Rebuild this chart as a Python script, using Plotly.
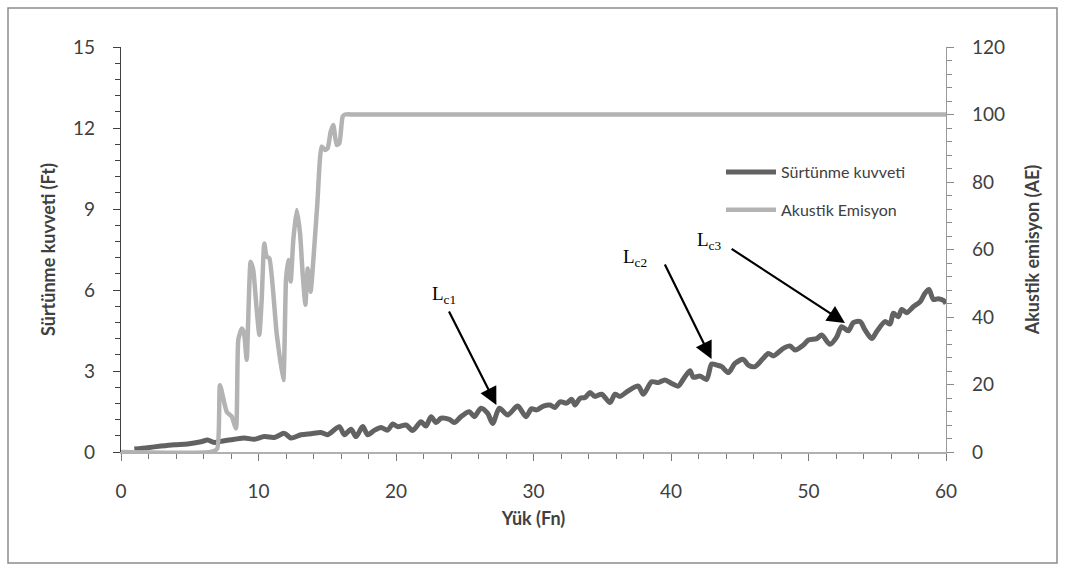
import plotly.graph_objects as go

# ---- data ----
fn_friction = [0.97, 1.94, 2.91, 3.88, 4.85, 5.82, 6.30, 6.79, 7.52, 8.24, 8.97, 9.70, 10.42, 11.15,
               11.88, 12.36, 13.09, 13.82, 14.55, 15.03, 15.88, 16.24, 16.73, 17.09, 17.58, 17.94,
               18.42, 18.91, 19.39, 19.76, 20.12, 20.73, 21.21, 21.82, 22.18, 22.55, 22.91, 23.27,
               23.88, 24.24, 24.73, 25.33, 25.70, 26.18, 26.67, 27.03, 27.52, 28.12, 28.85, 29.45,
               29.85, 30.23, 30.72, 31.20, 31.56, 31.93, 32.41, 32.78, 33.02, 33.38, 33.75, 34.11,
               34.47, 34.96, 35.56, 35.93, 36.29, 36.90, 37.62, 37.99, 38.59, 39.08, 39.56, 40.05,
               40.53, 40.89, 41.38, 41.62, 42.11, 42.59, 42.96, 43.32, 43.69, 44.17, 44.65, 45.26,
               45.62, 46.11, 46.71, 47.08, 47.44, 48.17, 48.65, 49.02, 49.62, 49.99, 50.60, 50.96,
               51.56, 52.05, 52.41, 52.90, 53.26, 53.75, 54.11, 54.60, 54.96, 55.56, 55.93, 56.17,
               56.53, 56.78, 57.14, 57.62, 58.11, 58.47, 58.76, 59.08, 59.44, 59.80, 60.00]
friction = [0.11, 0.16, 0.22, 0.27, 0.30, 0.38, 0.44, 0.35, 0.42, 0.47, 0.52, 0.47, 0.57, 0.54,
            0.69, 0.52, 0.64, 0.68, 0.72, 0.64, 0.94, 0.64, 0.84, 0.57, 0.94, 0.64,
            0.80, 0.91, 0.81, 1.04, 0.94, 1.00, 0.80, 1.12, 0.96, 1.31, 1.09, 1.25,
            1.21, 1.09, 1.31, 1.49, 1.31, 1.62, 1.43, 1.06, 1.62, 1.37, 1.70, 1.31,
            1.60, 1.56, 1.70, 1.74, 1.65, 1.86, 1.81, 1.95, 1.74, 1.99, 2.02, 2.20,
            2.06, 2.14, 1.83, 2.14, 2.06, 2.27, 2.44, 2.14, 2.60, 2.57, 2.67, 2.54,
            2.44, 2.69, 3.01, 2.77, 2.81, 2.69, 3.26, 3.22, 3.16, 2.94, 3.28, 3.43,
            3.22, 3.16, 3.47, 3.65, 3.56, 3.84, 3.93, 3.78, 3.96, 4.15, 4.20, 4.33,
            3.99, 4.26, 4.64, 4.49, 4.79, 4.83, 4.52, 4.20, 4.46, 4.83, 4.74, 5.14,
            5.01, 5.28, 5.16, 5.38, 5.56, 5.88, 6.02, 5.65, 5.68, 5.62, 5.50]

fn_ae = [0.0, 6.5, 7.0, 7.2, 7.69, 8.05, 8.36, 8.53, 8.78, 8.95, 9.14, 9.43, 9.62, 9.87, 10.06,
         10.23, 10.42, 10.59, 10.79, 11.32, 11.80, 12.00, 12.17, 12.34, 12.53, 12.78, 13.02,
         13.21, 13.41, 13.58, 13.79, 13.99, 14.28, 14.59, 14.84, 15.03, 15.25, 15.44, 15.68,
         15.88, 16.12, 16.29, 17.0, 60.0]
ae = [0.0, 0.0, 1.0, 19.8, 11.9, 10.5, 7.0, 33.2, 36.6, 35.2, 27.3, 56.4, 53.9, 42.1, 34.7,
      45.0, 61.8, 57.9, 57.4, 35.2, 21.3, 51.0, 56.9, 50.5, 62.8, 71.7, 64.8,
      52.9, 43.6, 54.4, 47.5, 56.9, 73.7, 90.5, 89.5, 90.0, 94.9, 96.9, 91.0,
      91.5, 99.4, 100.0, 100.0, 100.0]

x_ticks = [0, 10, 20, 30, 40, 50, 60]
y_left_ticks = [0, 3, 6, 9, 12, 15]
y_right_ticks = [0, 20, 40, 60, 80, 100, 120]

# annotation labels: text position, arrow tail and arrow tip (data units)
lc_labels = ["L<sub>c1</sub>", "L<sub>c2</sub>", "L<sub>c3</sub>"]
lc_text_x = [23.5, 37.4, 42.8]
lc_text_y = [5.80, 7.20, 7.82]
lc_tail_x = [23.8, 39.5, 44.3]
lc_tail_y = [5.26, 7.00, 7.56]
lc_tip_x = [27.3, 42.95, 52.65]
lc_tip_y = [1.74, 3.44, 4.78]

FONT = "Lato"
TXT = "#404040"

fig = go.Figure()
fig.add_trace(go.Scatter(x=fn_friction, y=friction, mode="lines", name="Sürtünme kuvveti",
                         line=dict(color="#626262", width=5, shape="spline", smoothing=0.8),
                         yaxis="y", legendgroup="a"))
fig.add_trace(go.Scatter(x=fn_ae, y=ae, mode="lines", name="Akustik Emisyon",
                         line=dict(color="#b3b3b3", width=4.5, shape="spline", smoothing=0.5),
                         yaxis="y2", legendgroup="b"))

annotations = []
for i in range(3):
    annotations.append(dict(x=lc_text_x[i], y=lc_text_y[i], xref="x", yref="y", text=lc_labels[i],
                            showarrow=False, font=dict(family="Liberation Serif", size=19, color="#000")))
    annotations.append(dict(x=lc_tip_x[i], y=lc_tip_y[i], xref="x", yref="y",
                            ax=lc_tail_x[i], ay=lc_tail_y[i], axref="x", ayref="y", text="",
                            showarrow=True, arrowhead=2, arrowsize=1.6, arrowwidth=2.2,
                            arrowcolor="#000", standoff=0))

minor_style = dict(ticks="outside", ticklen=5, tickwidth=1)

fig.update_layout(
    width=1065, height=572,
    margin=dict(l=121, r=119, t=47, b=120),
    paper_bgcolor="white", plot_bgcolor="white",
    font=dict(family=FONT, color=TXT),
    showlegend=True,
    xaxis=dict(range=[0, 60], tickvals=x_ticks, showgrid=False, zeroline=False,
               showline=True, linecolor="#b0b0b0", linewidth=1.5,
               ticks="outside", ticklen=7, tickcolor="#7a7a7a", tickwidth=1,
               minor=dict(dtick=2, tick0=0, tickcolor="#7a7a7a", **minor_style),
               tickfont=dict(size=19, color=TXT), ticklabelstandoff=14,
               title=dict(text="<b>Yük (Fn)</b>", font=dict(size=18, color=TXT), standoff=12)),
    yaxis=dict(range=[0, 15], tickvals=y_left_ticks, showgrid=False, zeroline=False,
               showline=True, linecolor="#404040", linewidth=1.2,
               ticks="outside", ticklen=7, tickcolor="#404040", tickwidth=1,
               minor=dict(dtick=0.6, tick0=0, tickcolor="#404040", **minor_style),
               tickfont=dict(size=19, color=TXT), ticklabelstandoff=14,
               title=dict(text="<b>Sürtünme kuvveti (Ft)</b>", font=dict(size=18, color=TXT), standoff=12)),
    yaxis2=dict(range=[0, 120], tickvals=y_right_ticks, overlaying="y", side="right",
                showgrid=False, zeroline=False,
                showline=True, linecolor="#9a9a9a", linewidth=1.2,
                ticks="outside", ticklen=7, tickcolor="#8a8a8a", tickwidth=1,
                minor=dict(dtick=4, tick0=0, tickcolor="#8a8a8a", **minor_style),
                tickfont=dict(size=19, color=TXT), ticklabelstandoff=14,
                title=dict(text="<b>Akustik emisyon (AE)</b>", font=dict(size=18, color=TXT), standoff=22)),
    legend=dict(x=(721 - 121) / 825, y=(452 - 155) / 405, xanchor="left", yanchor="top",
                bgcolor="rgba(0,0,0,0)", font=dict(size=16, color=TXT), itemwidth=50,
                traceorder="grouped", tracegroupgap=14),
    annotations=annotations,
    shapes=[dict(type="rect", xref="paper", yref="paper",
                 x0=(8 - 121) / 825, x1=(1057 - 121) / 825,
                 y0=(452 - 563) / 405, y1=(452 - 8) / 405,
                 line=dict(color="#8c8c8c", width=1.5), fillcolor="rgba(0,0,0,0)", layer="below")],
)

fig.write_html("out.html")
